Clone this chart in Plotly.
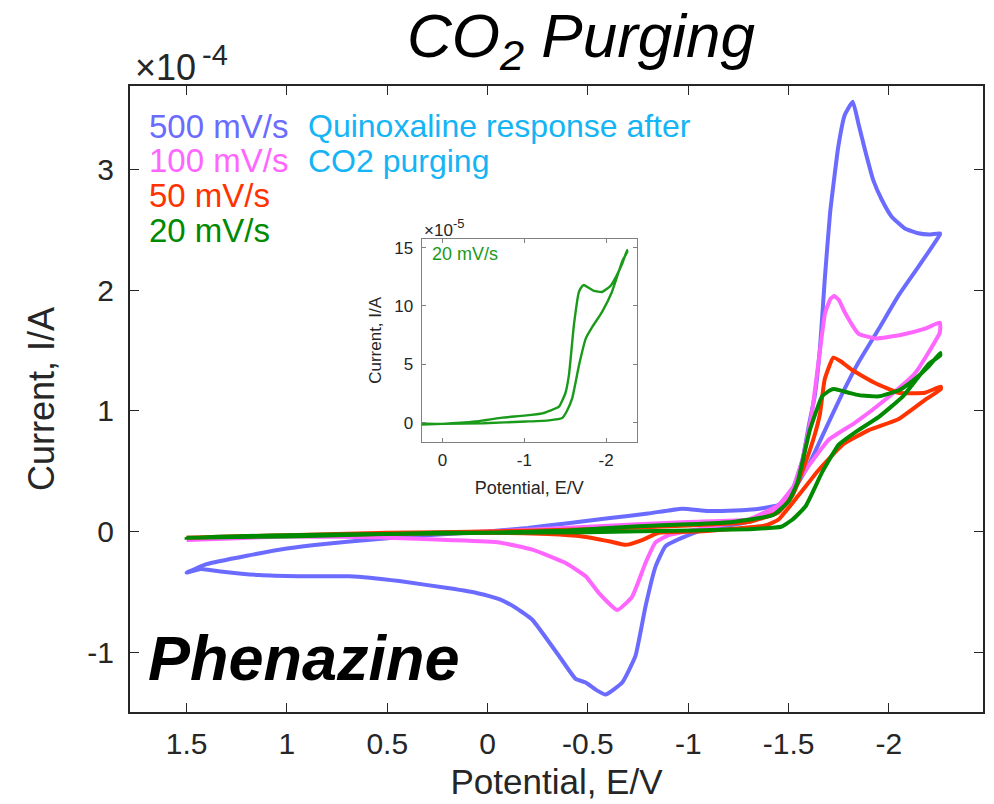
import plotly.graph_objects as go

# ---- cyclic voltammograms (potential in V, current in units of 1e-4 A) ----
# 500 mV/s
e500_fwd = [1.5, 1.4, 1.2, 1.0, 0.8, 0.6, 0.4, 0.2, 0.0, -0.2, -0.4, -0.6, -0.8, -0.97, -1.1, -1.3,
            -1.45, -1.52, -1.57, -1.6, -1.63, -1.657, -1.68, -1.707, -1.748, -1.78, -1.82, -1.848,
            -1.881, -1.922, -1.964, -2.013, -2.08, -2.146, -2.2, -2.254]
i500_fwd = [-0.34, -0.27, -0.2, -0.14, -0.1, -0.07, -0.04, -0.02, 0.0, 0.03, 0.07, 0.11, 0.15, 0.19,
            0.17, 0.18, 0.22, 0.35, 0.6, 0.87, 1.12, 1.53, 2.08, 2.64, 3.19, 3.45, 3.56, 3.38,
            3.16, 2.91, 2.75, 2.61, 2.51, 2.47, 2.46, 2.47]
e500_rev = [-2.254, -2.15, -2.046, -1.95, -1.848, -1.77, -1.69, -1.6, -1.5, -1.4, -1.3, -1.2, -1.1,
            -0.986, -0.887, -0.837, -0.787, -0.737, -0.671, -0.588, -0.54, -0.489, -0.439, -0.356,
            -0.223, -0.14, -0.058, 0.05, 0.19, 0.44, 0.69, 0.94, 1.14, 1.33, 1.43, 1.5]
i500_rev = [2.46, 2.2, 1.95, 1.68, 1.40, 1.15, 0.87, 0.55, 0.28, 0.14, 0.08, 0.05, 0.03,
            -0.04, -0.12, -0.29, -0.62, -1.03, -1.25, -1.35, -1.31, -1.25, -1.22, -1.03,
            -0.73, -0.63, -0.56, -0.51, -0.47, -0.41, -0.37, -0.37, -0.36, -0.33, -0.31, -0.34]

# 100 mV/s
e100_fwd = [1.5, 1.0, 0.5, 0.0, -0.5, -1.0, -1.3, -1.45, -1.52, -1.57, -1.616, -1.649, -1.682,
            -1.71, -1.728, -1.75, -1.782, -1.848, -1.931, -2.063, -2.18, -2.254]
i100_fwd = [-0.07, -0.04, -0.02, 0.0, 0.04, 0.08, 0.1, 0.18, 0.35, 0.6, 0.98, 1.40, 1.81,
            1.93, 1.95, 1.92, 1.81, 1.64, 1.60, 1.63, 1.68, 1.73]
e100_rev = [-2.254, -2.13, -1.98, -1.83, -1.70, -1.55, -1.45, -1.3, -1.15, -1.052, -0.903, -0.837,
            -0.787, -0.72, -0.646, -0.555, -0.489, -0.389, -0.223, -0.058, 0.2, 0.5, 1.0, 1.5]
i100_rev = [1.65, 1.31, 1.09, 0.90, 0.76, 0.43, 0.22, 0.1, 0.05, 0.02, -0.03, -0.09,
            -0.26, -0.54, -0.65, -0.51, -0.37, -0.26, -0.15, -0.09, -0.07, -0.05, -0.04, -0.07]

# 50 mV/s
e50_fwd = [1.5, 1.0, 0.5, 0.0, -0.5, -1.0, -1.3, -1.45, -1.52, -1.58, -1.63, -1.657, -1.68,
           -1.723, -1.76, -1.815, -1.931, -2.047, -2.18, -2.259]
i50_fwd = [-0.05, -0.03, -0.01, 0.0, 0.02, 0.05, 0.08, 0.16, 0.3, 0.55, 0.8, 0.98, 1.26,
           1.44, 1.41, 1.34, 1.23, 1.15, 1.15, 1.20]
e50_rev = [-2.259, -2.18, -2.047, -1.90, -1.77, -1.65, -1.55, -1.45, -1.384, -1.2, -1.05, -0.853,
           -0.77, -0.688, -0.605, -0.472, -0.3, -0.058, 0.5, 1.0, 1.5]
i50_rev = [1.18, 1.09, 0.93, 0.84, 0.72, 0.51, 0.30, 0.1, 0.05, 0.02, 0.0, -0.01,
           -0.07, -0.11, -0.08, -0.04, -0.02, -0.01, -0.02, -0.03, -0.05]

# 20 mV/s
e20_fwd = [1.5, 1.0, 0.5, 0.0, -0.4, -0.73, -1.0, -1.22, -1.423, -1.5, -1.545, -1.606, -1.667,
           -1.707, -1.728, -1.8, -1.85, -1.95, -2.05, -2.12, -2.2, -2.256]
i20_fwd = [-0.05, -0.04, -0.02, -0.01, 0.01, 0.043, 0.06, 0.08, 0.137, 0.25, 0.41, 0.84, 1.12,
           1.17, 1.18, 1.15, 1.13, 1.12, 1.17, 1.25, 1.37, 1.48]
e20_rev = [-2.256, -2.2, -2.07, -1.95, -1.83, -1.75, -1.667, -1.585, -1.52, -1.463, -1.3, -1.02,
           -0.5, 0.0, 0.256, 0.5, 1.0, 1.5]
i20_rev = [1.46, 1.39, 1.12, 0.95, 0.82, 0.72, 0.49, 0.21, 0.1, 0.04, 0.02, 0.01,
           -0.005, -0.01, -0.01, -0.02, -0.03, -0.05]

scan_labels = ["500 mV/s", "100 mV/s", "50 mV/s", "20 mV/s"]
scan_colors = ["#6b6bff", "#ff66ff", "#ff3300", "#008a00"]

x_tickvals = [1.5, 1, 0.5, 0, -0.5, -1, -1.5, -2]
x_ticktext = ["1.5", "1", "0.5", "0", "-0.5", "-1", "-1.5", "-2"]
y_tickvals = [-1, 0, 1, 2, 3]
y_ticktext = ["-1", "0", "1", "2", "3"]

inset_x_tickvals = [0, -1, -2]
inset_x_ticktext = ["0", "-1", "-2"]
inset_y_tickvals = [0, 5, 10, 15]
inset_y_ticktext = ["0", "5", "10", "15"]

W, H = 994, 804
ML, MR, MT, MB = 130, 9, 86, 92
FONT = "Liberation Sans, Arial, sans-serif"
INK = "#262626"


def px(x):
    return (x - ML) / (W - ML - MR)


def py(y):
    return (H - MB - y) / (H - MT - MB)


series = [
    (e500_fwd, i500_fwd, e500_rev, i500_rev),
    (e100_fwd, i100_fwd, e100_rev, i100_rev),
    (e50_fwd, i50_fwd, e50_rev, i50_rev),
    (e20_fwd, i20_fwd, e20_rev, i20_rev),
]

fig = go.Figure()
for (ef, jf, er, jr), name, col in zip(series, scan_labels, scan_colors):
    fig.add_trace(go.Scatter(
        x=ef + er, y=jf + jr, mode="lines", name=name,
        line=dict(color=col, width=4, shape="spline", smoothing=0.4),
        showlegend=False,
    ))

# inset: 20 mV/s scan in units of 1e-5 A
fig.add_trace(go.Scatter(
    x=e20_fwd + e20_rev, y=[v * 10 for v in i20_fwd + i20_rev], mode="lines",
    line=dict(color="#1a9a1a", width=2.4, shape="spline", smoothing=0.4),
    xaxis="x2", yaxis="y2", showlegend=False,
))

fig.update_layout(
    width=W, height=H,
    margin=dict(l=ML, r=MR, t=MT, b=MB),
    paper_bgcolor="white", plot_bgcolor="white",
    font=dict(family=FONT, color=INK),
    xaxis=dict(
        domain=[0, 1], range=[1.782, -2.469], showgrid=False, zeroline=False,
        tickvals=x_tickvals, ticktext=x_ticktext, ticks="inside", ticklen=9, tickwidth=1.3,
        tickcolor=INK, showline=True, linecolor=INK, linewidth=2, mirror="ticks",
        tickfont=dict(size=30, color=INK), ticklabelstandoff=4,
        title=dict(text="Potential, E/V", font=dict(size=35, color=INK), standoff=10),
    ),
    yaxis=dict(
        domain=[0, 1], range=[-1.494, 3.690], showgrid=False, zeroline=False,
        tickvals=y_tickvals, ticktext=y_ticktext, ticks="inside", ticklen=9, tickwidth=1.3,
        tickcolor=INK, showline=True, linecolor=INK, linewidth=2, mirror="ticks",
        tickfont=dict(size=30, color=INK), ticklabelstandoff=8,
        title=dict(text="Current, I/A", font=dict(size=36, color=INK), standoff=22),
    ),
    xaxis2=dict(
        domain=[px(422.3), px(638.3)], range=[0.256, -2.378], anchor="y2",
        showgrid=False, zeroline=False, tickvals=inset_x_tickvals, ticktext=inset_x_ticktext,
        ticks="inside", ticklen=4, tickcolor="#808080", showline=True, linecolor="#808080",
        linewidth=1.2, mirror="ticks", tickfont=dict(size=17, color=INK), ticklabelstandoff=3,
        title=dict(text="Potential, E/V", font=dict(size=18, color=INK), standoff=12),
    ),
    yaxis2=dict(
        domain=[py(441.7), py(239)], range=[-1.63, 15.74], anchor="x2",
        showgrid=False, zeroline=False, tickvals=inset_y_tickvals, ticktext=inset_y_ticktext,
        ticks="inside", ticklen=4, tickcolor="#808080", showline=True, linecolor="#808080",
        linewidth=1.2, mirror="ticks", tickfont=dict(size=17, color=INK), ticklabelstandoff=4,
        title=dict(text="Current, I/A", font=dict(size=17, color=INK), standoff=8),
    ),
)

annotations = [
    dict(x=px(582), y=py(40), text="<i>CO<sub>2</sub> Purging</i>",
         font=dict(size=62, color="black"), xanchor="center", yanchor="middle"),
    dict(x=px(133), y=py(68), text="×10",
         font=dict(size=36, color=INK), xanchor="left", yanchor="middle"),
    dict(x=px(200), y=py(55), text="-4",
         font=dict(size=29, color=INK), xanchor="left", yanchor="middle"),
    dict(x=px(146), y=py(658), text="<b><i>Phenazine</i></b>",
         font=dict(size=63, color="black"), xanchor="left", yanchor="middle"),
    dict(x=px(306), y=py(126), text="Quinoxaline response after",
         font=dict(size=32, color="#14b4f5"), xanchor="left", yanchor="middle"),
    dict(x=px(306), y=py(161), text="CO2 purging",
         font=dict(size=32, color="#14b4f5"), xanchor="left", yanchor="middle"),
    dict(x=px(423), y=py(230), text="×10",
         font=dict(size=17, color=INK), xanchor="left", yanchor="middle"),
    dict(x=px(452), y=py(224), text="-5",
         font=dict(size=13, color=INK), xanchor="left", yanchor="middle"),
    dict(x=px(431), y=py(254), text="20 mV/s",
         font=dict(size=18, color="#1a9a1a"), xanchor="left", yanchor="middle"),
]
for k, (name, col) in enumerate(zip(scan_labels, scan_colors)):
    annotations.append(dict(x=px(147), y=py(126 + 35 * k), text=name,
                            font=dict(size=33, color=col), xanchor="left", yanchor="middle"))
for a in annotations:
    a.update(xref="paper", yref="paper", showarrow=False)
fig.update_layout(annotations=annotations)

fig.write_html("out.html")
